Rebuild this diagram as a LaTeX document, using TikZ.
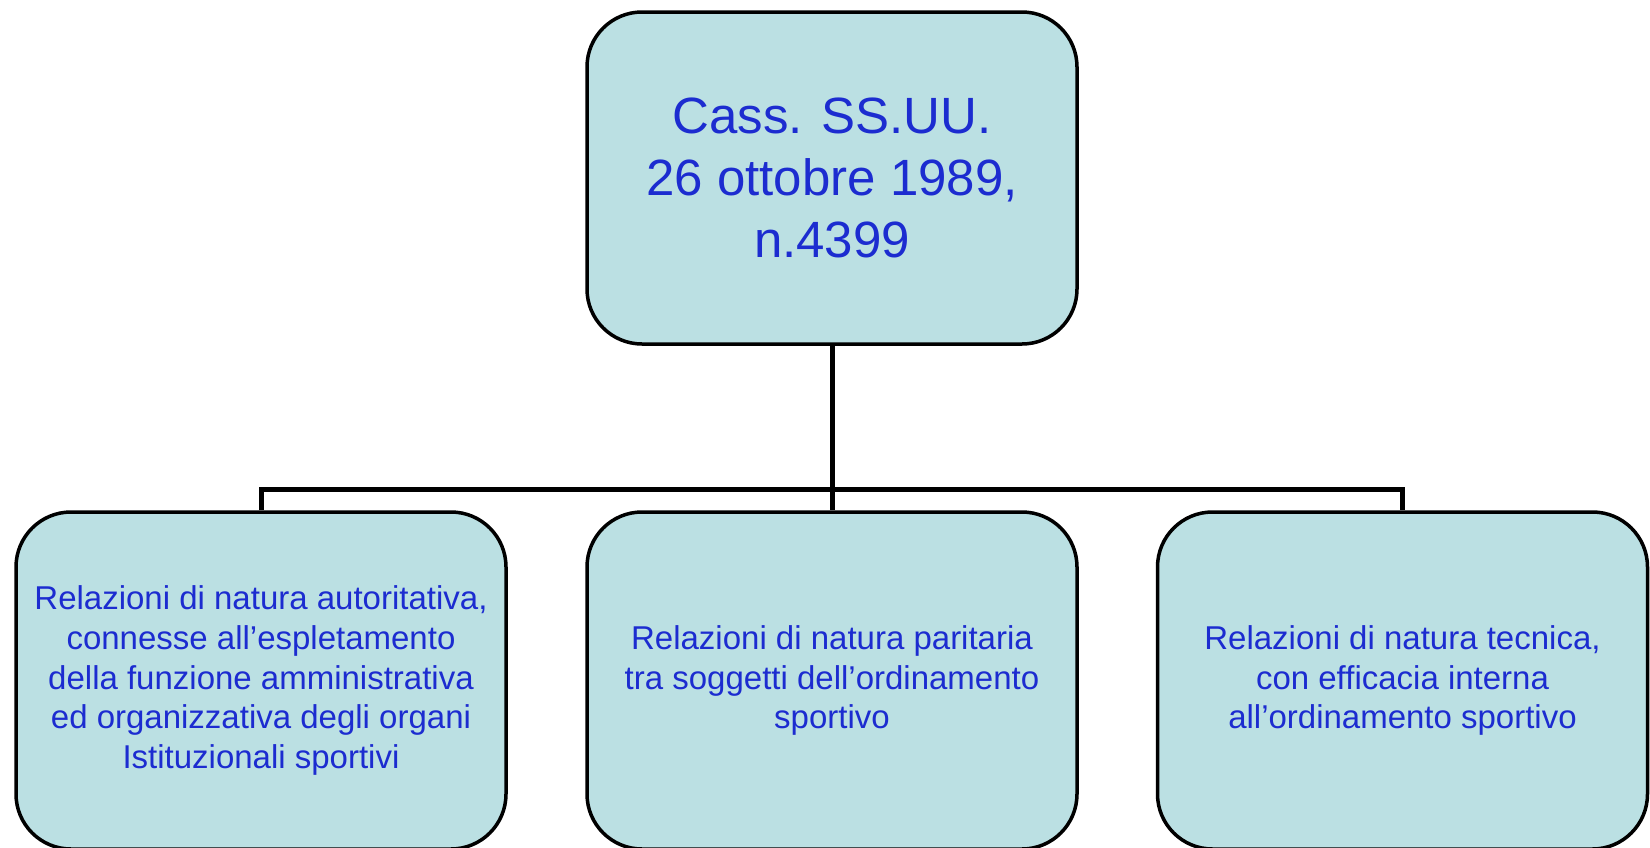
\documentclass[tikz,border=0pt]{standalone}
\usepackage{fontspec}
\setmainfont{Liberation Sans}
\usepackage{xcolor}
\usepackage{tikz}
\usetikzlibrary{positioning}
\definecolor{box fill}{RGB}{187,224,227}
\definecolor{box text}{RGB}{28,44,208}
\tikzset{
case box/.style = { rectangle, draw = black, line width = 1.75pt, fill = box fill, rounded corners = 27.5pt, minimum width = 245pt, minimum height = 166pt, align = center, text = box text, font = \fontsize{25.5pt}{31pt}\selectfont },
relation box/.style = { case box, minimum height = 168.5pt, font = \fontsize{16.5pt}{19.8pt}\selectfont },
link/.style = { draw = black, line width = 2.5pt, line join = miter },
}

\begin{document}
\begin{tikzpicture}[x = 0.5pt, y = -0.5pt]
      \useasboundingbox (0, 0) rectangle (1650, 847);
      \node[case box] (cass) at (832, 178) {Cass. SS.UU.\\26 ottobre 1989,\\n.4399};
      \node[relation box] (auto) at (261, 680.5) {Relazioni di natura autoritativa,\\connesse all'espletamento\\della funzione amministrativa\\ed organizzativa degli organi\\Istituzionali sportivi};
      \node[relation box] (pari) at (832, 680.5) {Relazioni di natura paritaria\\tra soggetti dell'ordinamento\\sportivo};
      \node[relation box] (tecn) at (1402.5, 680.5) {Relazioni di natura tecnica,\\con efficacia interna\\all'ordinamento sportivo};
      \coordinate (bus) at (832, 489);
      \draw[link] (cass.south) -- (pari.north);
      \draw[link] (auto.north) |- (bus) -| (tecn.north);
    \end{tikzpicture}
\end{document}
